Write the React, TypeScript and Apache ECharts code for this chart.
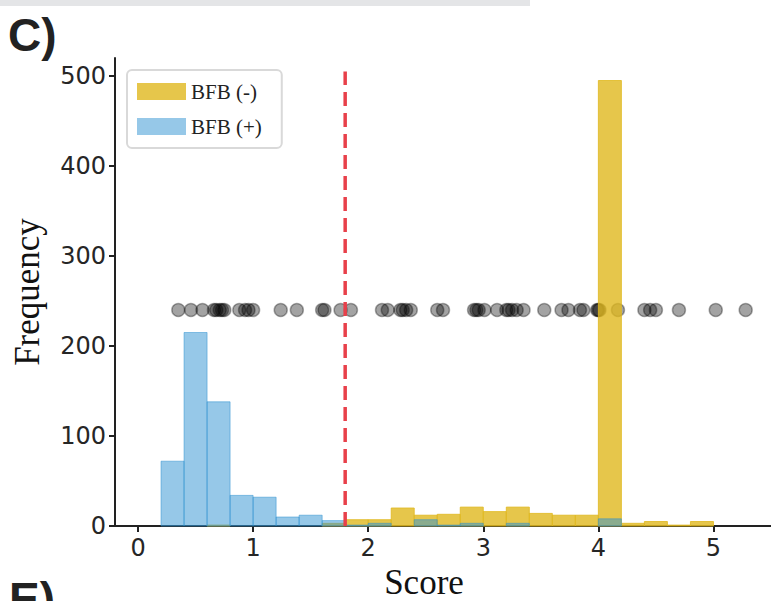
import React, { useEffect, useRef } from "react";
import * as echarts from "echarts";

// Histogram bins (score)
const binLeft = [0.2, 0.4, 0.6, 0.8, 1.0, 1.2, 1.4, 1.6, 1.8, 2.0, 2.2, 2.4, 2.6, 2.8, 3.0, 3.2, 3.4, 3.6, 3.8, 4.0, 4.2, 4.4, 4.6, 4.8];
const binRight = [0.4, 0.6, 0.8, 1.0, 1.2, 1.4, 1.6, 1.8, 2.0, 2.2, 2.4, 2.6, 2.8, 3.0, 3.2, 3.4, 3.6, 3.8, 4.0, 4.2, 4.4, 4.6, 4.8, 5.0];

// BFB (-) counts
const bfbNeg = [0, 0, 1, 0, 0, 0, 0, 3, 7, 7, 20, 12, 13, 21, 16, 21, 14, 12, 12, 495, 3, 5, 1, 5];
// BFB (+) counts
const bfbPos = [72, 215, 138, 34, 32, 10, 12, 6, 1, 3, 0, 7, 1, 3, 0, 3, 0, 0, 0, 8, 0, 0, 0, 0];

// individual scores shown as dots
const dotScores = [
  0.35, 0.46, 0.56, 0.66, 0.68, 0.71, 0.73, 0.75, 0.88, 0.93, 0.96, 1.0,
  1.24, 1.38, 1.6, 1.62, 1.76, 1.85, 2.12, 2.17, 2.28, 2.3, 2.33, 2.37,
  2.6, 2.65, 2.92, 2.94, 2.96, 3.01, 3.12, 3.2, 3.22, 3.25, 3.29, 3.35,
  3.53, 3.68, 3.74, 3.84, 3.87, 3.99, 4.0, 4.01, 4.17, 4.4, 4.45, 4.5,
  4.7, 5.02, 5.28,
];
const dotLevel = 240;

const threshold = 1.8;
const thresholdTop = 505;

const xTicks = [0, 1, 2, 3, 4, 5];
const yTicks = [0, 100, 200, 300, 400, 500];

const YELLOW = "rgba(224,184,30,0.8)";
const BLUE = "rgba(45,145,210,0.5)";

function histSeries(name: string, counts: number[], color: string, z: number) {
  const data = binLeft
    .map((l, i) => [l, binRight[i], counts[i]])
    .filter((d) => d[2] > 0);
  return {
    type: "custom",
    name,
    z,
    itemStyle: { color },
    encode: { x: [0, 1], y: 2 },
    data,
    renderItem: (params: any, api: any) => {
      const p0 = api.coord([api.value(0), api.value(2)]);
      const p1 = api.coord([api.value(1), 0]);
      return {
        type: "rect",
        shape: { x: p0[0], y: p0[1], width: p1[0] - p0[0], height: p1[1] - p0[1] },
        style: { fill: color, stroke: color, lineWidth: 1 },
      };
    },
  };
}

export default function App() {
  const ref = useRef<HTMLDivElement>(null);
  useEffect(() => {
    document.body.style.margin = "0";
    const chart = echarts.init(ref.current!, null, { renderer: "svg" });
    const axisColor = "#222";
    chart.setOption({
      animation: false,
      backgroundColor: "#fff",
      grid: { left: 115, top: 58, width: 656, height: 468, containLabel: false, outerBoundsMode: "none" },
      legend: {
        data: ["BFB (-)", "BFB (+)"],
        orient: "vertical",
        left: 127,
        top: 70,
        padding: [11, 20, 11, 10],
        itemGap: 14,
        itemWidth: 49,
        itemHeight: 17,
        icon: "rect",
        backgroundColor: "#fff",
        borderColor: "#d9d9d9",
        borderWidth: 2,
        borderRadius: 5,
        selectedMode: false,
        textStyle: { fontFamily: "Liberation Serif", fontSize: 21, color: "#222" },
      },
      xAxis: {
        type: "value",
        min: -0.2,
        max: 5.5,
        name: "Score",
        nameLocation: "middle",
        nameGap: 42,
        nameTextStyle: { fontFamily: "Liberation Serif", fontSize: 35, lineHeight: 28, color: "#111", padding: [0, 38, 0, 0] },
        axisLine: { show: true, onZero: false, lineStyle: { color: axisColor, width: 2 } },
        axisTick: { show: true, length: 6, customValues: xTicks, lineStyle: { color: axisColor, width: 2 } },
        axisLabel: { customValues: xTicks, fontFamily: "DejaVu Sans", fontSize: 24, color: "#262626", margin: 10 },
        splitLine: { show: false },
      },
      yAxis: {
        type: "value",
        min: 0,
        max: 520,
        name: "Frequency",
        nameLocation: "middle",
        nameRotate: 90,
        nameGap: 70,
        nameTextStyle: { fontFamily: "Liberation Serif", fontSize: 35, color: "#111" },
        axisLine: { show: true, onZero: false, lineStyle: { color: axisColor, width: 2 } },
        axisTick: { show: true, length: 6, customValues: yTicks, lineStyle: { color: axisColor, width: 2 } },
        axisLabel: { customValues: yTicks, fontFamily: "DejaVu Sans", fontSize: 24, color: "#262626", margin: 9 },
        splitLine: { show: false },
      },
      graphic: [
        { type: "rect", left: 0, top: 0, shape: { width: 530, height: 6 }, style: { fill: "#e4e5e7" }, silent: true },
        { type: "text", left: 8, top: 12, style: { text: "C)", font: "bold 46px 'Liberation Sans'", fill: "#222" } },
        { type: "text", left: 9, top: 576, style: { text: "E)", font: "bold 46px 'Liberation Sans'", fill: "#222" } },
      ],
      series: [
        {
          type: "scatter",
          name: "scores",
          z: 1,
          symbolSize: 13,
          itemStyle: { color: "rgba(0,0,0,0.45)", borderColor: "rgba(0,0,0,0.4)", borderWidth: 1.5 },
          data: dotScores.map((s) => [s, dotLevel]),
        },
        histSeries("BFB (-)", bfbNeg, YELLOW, 2),
        histSeries("BFB (+)", bfbPos, BLUE, 3),
        {
          type: "line",
          name: "threshold",
          z: 5,
          symbol: "none",
          lineStyle: { color: "#e8404a", width: 3.5, type: [14, 7] },
          data: [
            [threshold, 0],
            [threshold, thresholdTop],
          ],
        },
      ],
    });
    return () => chart.dispose();
  }, []);
  return <div ref={ref} style={{ position: "absolute", left: 0, top: 0, width: 771, height: 601 }} />;
}
